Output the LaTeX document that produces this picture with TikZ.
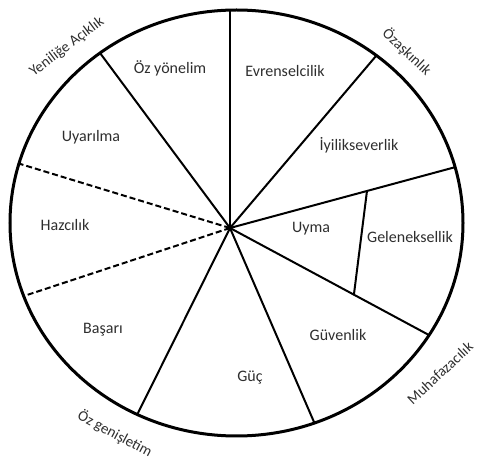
\documentclass[tikz,border=0pt]{standalone}
\usepackage{fontspec}
\setmainfont{Carlito}
\usetikzlibrary{calc}
\definecolor{txt}{rgb}{0.18,0.18,0.18}
\begin{document}
\begin{tikzpicture}[x=1pt,y=-1pt,
  lbl/.style={font=\fontsize{16}{18}\selectfont, text=txt, inner sep=0pt},
  olbl/.style={font=\fontsize{15}{17}\selectfont, text=txt, inner sep=0pt},
  spoke/.style={line width=2pt, line cap=round},
  dspoke/.style={line width=2pt, dash pattern=on 6pt off 3pt},
  rim/.style={line width=3pt}]
\useasboundingbox (0,0) rectangle (477,462);
\coordinate (hub) at (230,228);
\coordinate (p1) at (230,10);
\coordinate (p2) at (100,53);
\coordinate (p3) at (17,163);
\coordinate (p4) at (24,296);
\coordinate (p5) at (137,415);
\coordinate (p6) at (314,422);
\coordinate (p7) at (427,334);
\coordinate (p8) at (452,168);
\coordinate (p9) at (376,56);
\coordinate (e1) at ($(hub)!1.2!(p1)$);
\coordinate (e2) at ($(hub)!1.2!(p2)$);
\coordinate (e3) at ($(hub)!1.2!(p3)$);
\coordinate (e4) at ($(hub)!1.2!(p4)$);
\coordinate (e5) at ($(hub)!1.2!(p5)$);
\coordinate (e6) at ($(hub)!1.2!(p6)$);
\coordinate (e7) at ($(hub)!1.2!(p7)$);
\coordinate (e8) at ($(hub)!1.2!(p8)$);
\coordinate (e9) at ($(hub)!1.2!(p9)$);
\coordinate (q8) at ($(hub)!0.617!(p8)$);
\coordinate (q7) at ($(hub)!0.629!(p7)$);
\begin{scope}
  \clip (236.5,223) ellipse [x radius=226.5pt, y radius=213pt];
  \draw[spoke] (hub) -- (e1);
  \draw[spoke] (hub) -- (e2);
  \draw[dspoke] (hub) -- (e3);
  \draw[dspoke] (hub) -- (e4);
  \draw[spoke] (hub) -- (e5);
  \draw[spoke] (hub) -- (e6);
  \draw[spoke] (hub) -- (e7);
  \draw[spoke] (hub) -- (e8);
  \draw[spoke] (hub) -- (e9);
  \draw[spoke] (q8) -- (q7);
\end{scope}
\draw[rim] (236.5,223) ellipse [x radius=226.5pt, y radius=213pt];
\node[lbl] (oz) at (170,68) {Öz yönelim};
\node[lbl] (uy) at (91,137) {Uyarılma};
\node[lbl] (hz) at (65,225) {Hazcılık};
\node[lbl] (bs) at (103,330) {Başarı};
\node[lbl] (gc) at (250,378) {Güç};
\node[lbl] (gv) at (338,335) {Güvenlik};
\node[lbl] (um) at (311,229) {Uyma};
\node[lbl] (gl) at (410,237) {Geleneksellik};
\node[lbl] (iy) at (359,145) {İyilikseverlik};
\node[lbl] (ev) at (285,71) {Evrenselcilik};
\node[olbl, rotate=37] (ya) at (67,47) {Yeniliğe Açıklık};
\node[olbl, rotate=-43] (oa) at (407,52) {Özaşkınlık};
\node[olbl, rotate=43] (mh) at (440,373) {Muhafazacılık};
\node[olbl, rotate=-28] (og) at (115,434) {Öz genişletim};
\end{tikzpicture}
\end{document}
